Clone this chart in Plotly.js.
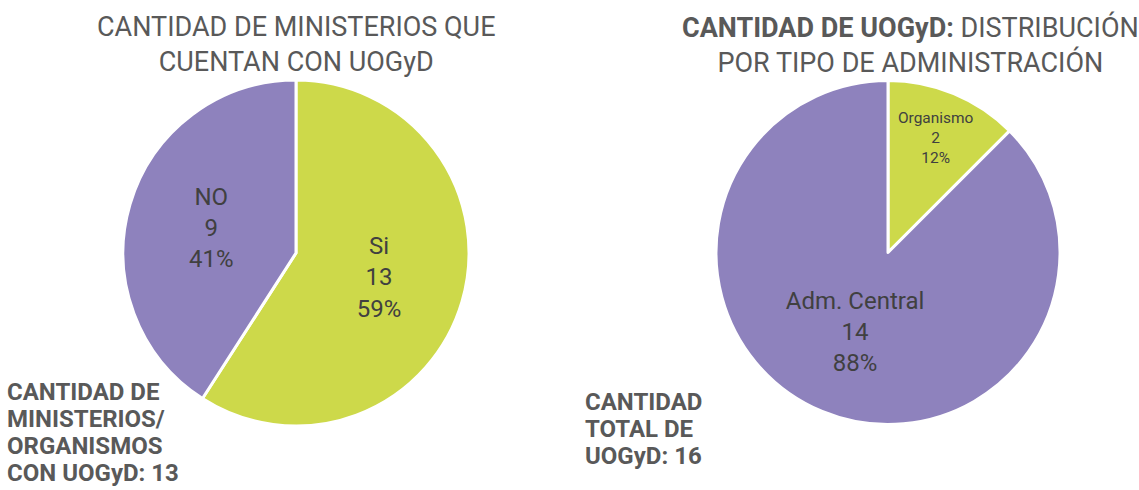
<!DOCTYPE html>
<html><head><meta charset="utf-8">
<script src="https://cdn.plot.ly/plotly-3.0.1.min.js"></script>
<style>html,body{margin:0;padding:0;background:#fff;}#chart{width:1139px;height:490px;}</style>
</head><body><div id="chart"></div>
<script>
const leftLabels = ["Si", "NO"];
const leftValues = [13, 9];
const leftPct = ["59%", "41%"];
const rightLabels = ["Organismo", "Adm. Central"];
const rightValues = [2, 14];
const rightPct = ["12%", "88%"];
const leftTitle = "CANTIDAD DE MINISTERIOS QUE<br>CUENTAN CON UOGyD";
const rightTitle = "<b>CANTIDAD DE UOGyD:</b> DISTRIBUCIÓN<br>POR TIPO DE ADMINISTRACIÓN";
const leftNoteLines = ["CANTIDAD DE", "MINISTERIOS/", "ORGANISMOS", "CON UOGyD: 13"];
const rightNoteLines = ["CANTIDAD", "TOTAL DE", "UOGyD: 16"];

const green = "#cdd94a", purple = "#8e82bd";
const W = 1139, H = 490;
function dom(x0, x1, y0, y1) { return {x: [x0 / W, x1 / W], y: [1 - y1 / H, 1 - y0 / H]}; }

function pie(labels, values, pct, d) {
  return {
    type: "pie", labels: labels, values: values, text: pct,
    sort: false, direction: "clockwise", rotation: 0,
    marker: {colors: [green, purple], line: {color: "#ffffff", width: 3}},
    texttemplate: "%{label}<br>%{value}<br>%{text}",
    textposition: "inside", insidetextorientation: "horizontal",
    textfont: {family: "Roboto", size: 24, color: "#404040"},
    hoverinfo: "label+value+percent", showlegend: false,
    domain: d
  };
}

const data = [
  pie(leftLabels, leftValues, leftPct, dom(123, 469, 80, 426)),
  pie(rightLabels, rightValues, rightPct, dom(716, 1060, 80, 425))
];

const annotations = [
  {text: leftTitle, x: 296 / W, y: 1 - 9 / H, xref: "paper", yref: "paper", xanchor: "center", yanchor: "top",
   showarrow: false, font: {size: 27, color: "#595959", family: "Roboto"}, align: "center"},
  {text: rightTitle, x: 910 / W, y: 1 - 9 / H, xref: "paper", yref: "paper", xanchor: "center", yanchor: "top",
   showarrow: false, font: {size: 27, color: "#595959", family: "Roboto"}, align: "center"}
];
function addNote(lines, x, y0) {
  lines.forEach(function (t, i) {
    annotations.push({text: "<b>" + t + "</b>", x: x / W, y: 1 - (y0 + i * 27) / H, xref: "paper", yref: "paper",
      xanchor: "left", yanchor: "middle", showarrow: false, align: "left",
      font: {size: 24, color: "#595959", family: "Roboto"}});
  });
}
addNote(leftNoteLines, 5, 392);
addNote(rightNoteLines, 583, 402);

const layout = {
  width: W, height: H,
  margin: {l: 0, r: 0, t: 0, b: 0},
  paper_bgcolor: "#fff",
  font: {family: "Roboto", color: "#595959"},
  showlegend: false,
  annotations: annotations
};
Plotly.newPlot("chart", data, layout, {displayModeBar: false, staticPlot: true});
</script></body></html>
